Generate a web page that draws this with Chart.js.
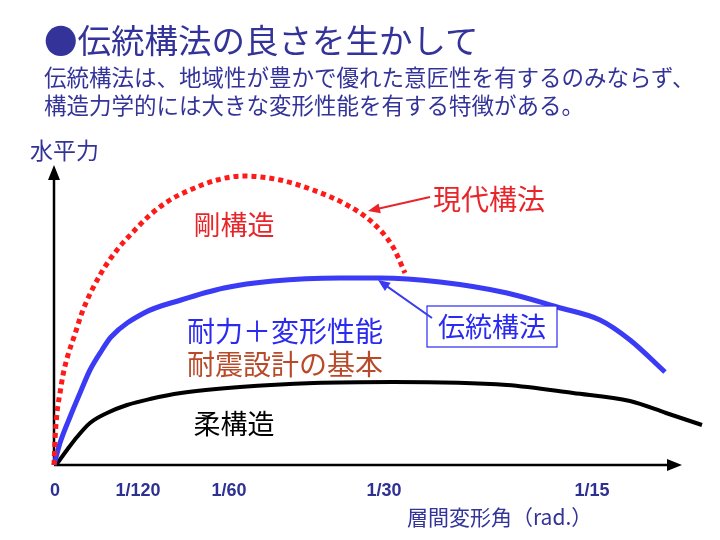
<!DOCTYPE html>
<html>
<head>
<meta charset="utf-8">
<script src="https://cdn.jsdelivr.net/npm/chart.js@4"></script>
<style>
  body { margin: 0; background: #fff; }
  #wrap { position: relative; width: 720px; height: 540px; overflow: hidden; }
  canvas { position: absolute; left: 0; top: 0; }
  .txt { position: absolute; color: #333399; font-family: "Noto Sans CJK JP", sans-serif; white-space: nowrap; line-height: 1; }
</style>
</head>
<body>
<div id="wrap">
  <canvas id="chart" width="720" height="540"></canvas>
  <div class="txt" style="left:44px; top:22px; font-size:33.5px;">●伝統構法の良さを生かして</div>
  <div class="txt" style="left:44px; top:62px; font-size:22.5px; line-height:28px;">伝統構法は、地域性が豊かで優れた意匠性を有するのみならず、<br>構造力学的には大きな変形性能を有する特徴がある。</div>
  <div class="txt" style="left:30px; top:138px; font-size:23px;">水平力</div>
  <div class="txt" style="left:407px; top:506px; font-size:21px;">層間変形角（rad.）</div>
</div>
<script>
// x in arbitrary drift units (not to scale), y = horizontal force
const tickPos = [1, 84, 175, 330, 538];
const tickLabels = ['0', '1/120', '1/60', '1/30', '1/15'];

// 現代構法 (剛構造) - red dotted
const rigidX = [0, 1, 3, 6, 9, 14, 20, 29, 46, 63, 79, 96, 116, 136, 163, 189, 226, 259, 293, 319, 339, 351];
const rigidY = [0, 25, 52, 72, 90, 110, 128, 155, 190, 215, 233, 250, 265, 275, 285, 289, 285, 275, 260, 242, 218, 192];

// 伝統構法 - blue
const tradX = [0, 6, 16, 26, 36, 48, 57, 90, 127, 170, 219, 286, 326, 386, 453, 503, 546, 576, 611];
const tradY = [0, 22, 48, 72, 95, 115, 128, 152, 165, 177, 184, 187, 187, 183, 172, 158, 145, 125, 93];

// 柔構造 - black
const flexX = [2, 13, 23, 36, 53, 73, 96, 127, 186, 260, 339, 453, 519, 576, 612, 648];
const flexY = [0, 15, 28, 42, 52, 60, 66, 72, 78, 82, 83, 80, 72, 64, 52, 40];

const toPts = (xs, ys) => xs.map((x, i) => ({x: x, y: ys[i]}));

const labels = [
    {text: '剛構造', x: 180, y: 240, color: '#E8262A', size: 27},
    {text: '現代構法', x: 435, y: 266, color: '#E8262A', size: 28},
    {text: '耐力＋変形性能', x: 231, y: 134, color: '#2A2AF0', size: 28},
    {text: '耐震設計の基本', x: 231, y: 101, color: '#B84A2A', size: 28},
    {text: '柔構造', x: 180, y: 41, color: '#000000', size: 27}
];

const arrowPlugin = {
    id: 'axesAndNotes',
    beforeDatasetsDraw(chart) {
        const {ctx, chartArea: a} = chart;
        ctx.save();
        ctx.strokeStyle = '#000';
        ctx.fillStyle = '#000';
        ctx.lineWidth = 2.5;
        ctx.beginPath();
        ctx.moveTo(a.left, a.bottom);
        ctx.lineTo(a.right - 12, a.bottom);
        ctx.moveTo(a.left, a.bottom);
        ctx.lineTo(a.left, a.top + 12);
        ctx.stroke();
        ctx.beginPath();
        ctx.moveTo(a.right, a.bottom);
        ctx.lineTo(a.right - 15, a.bottom - 6);
        ctx.lineTo(a.right - 15, a.bottom + 6);
        ctx.closePath();
        ctx.moveTo(a.left, a.top);
        ctx.lineTo(a.left - 6, a.top + 15);
        ctx.lineTo(a.left + 6, a.top + 15);
        ctx.closePath();
        ctx.fill();
        ctx.restore();
    },
    afterDatasetsDraw(chart) {
        const {ctx} = chart;
        const sx = chart.scales.x, sy = chart.scales.y;
        const px = v => sx.getPixelForValue(v);
        const py = v => sy.getPixelForValue(v);
        ctx.save();
        ctx.textAlign = 'center';
        ctx.textBaseline = 'middle';
        labels.forEach(l => {
            ctx.font = l.size + 'px "Noto Sans CJK JP"';
            ctx.fillStyle = l.color;
            ctx.fillText(l.text, px(l.x), py(l.y));
        });

        // box label for the traditional curve
        ctx.fillStyle = '#fff';
        ctx.fillRect(px(373), py(159), 130, 41);
        ctx.strokeStyle = '#2A2AF0';
        ctx.lineWidth = 1.2;
        ctx.strokeRect(px(373), py(159), 130, 41);
        ctx.fillStyle = '#2A2AF0';
        ctx.font = '27px "Noto Sans CJK JP"';
        ctx.fillText('伝統構法', px(438), py(138));

        const arrow = (x1, y1, x2, y2, color) => {
            const ax = px(x1), ay = py(y1), bx = px(x2), by = py(y2);
            const ang = Math.atan2(by - ay, bx - ax);
            ctx.strokeStyle = color;
            ctx.fillStyle = color;
            ctx.lineWidth = 2;
            ctx.beginPath();
            ctx.moveTo(ax, ay);
            ctx.lineTo(bx - 8 * Math.cos(ang), by - 8 * Math.sin(ang));
            ctx.stroke();
            ctx.beginPath();
            ctx.moveTo(bx, by);
            ctx.lineTo(bx - 12 * Math.cos(ang) + 5 * Math.sin(ang), by - 12 * Math.sin(ang) - 5 * Math.cos(ang));
            ctx.lineTo(bx - 12 * Math.cos(ang) - 5 * Math.sin(ang), by - 12 * Math.sin(ang) + 5 * Math.cos(ang));
            ctx.closePath();
            ctx.fill();
        };
        arrow(376, 268, 314, 254, '#E8262A');
        arrow(378, 147, 324, 185, '#3A3AF0');
        ctx.restore();
    }
};

const curveStyle = {
    pointRadius: 0,
    cubicInterpolationMode: 'monotone',
    capBezierPoints: false,
    clip: false
};

const config = {
    type: 'line',
    data: {
        datasets: [{
            ...curveStyle,
            data: toPts(rigidX, rigidY),
            borderColor: '#FF1A1A',
            borderWidth: 5,
            borderDash: [5, 4]
        }, {
            ...curveStyle,
            data: toPts(tradX, tradY),
            borderColor: '#3B3BF5',
            borderWidth: 5
        }, {
            ...curveStyle,
            data: toPts(flexX, flexY),
            borderColor: '#000000',
            borderWidth: 4
        }]
    },
    options: {
        responsive: false,
        animation: false,
        layout: {
            padding: {left: 54, right: 38, top: 165, bottom: 0}
        },
        plugins: {
            legend: {display: false},
            tooltip: {enabled: false}
        },
        scales: {
            x: {
                type: 'linear',
                min: 0,
                max: 628,
                grid: {display: false, drawTicks: false},
                border: {display: false},
                afterBuildTicks: s => { s.ticks = tickPos.map(v => ({value: v})); },
                afterFit: s => { s.height = 75; },
                ticks: {
                    autoSkip: false,
                    maxRotation: 0,
                    padding: 15,
                    color: '#2E3192',
                    font: {family: 'Liberation Sans, Arial', size: 18, weight: 'bold'},
                    callback: (v, i) => tickLabels[i]
                }
            },
            y: {
                display: false,
                min: 0,
                max: 300
            }
        }
    },
    plugins: [arrowPlugin]
};

const chart = new Chart(document.getElementById('chart'), config);
</script>
</body>
</html>
